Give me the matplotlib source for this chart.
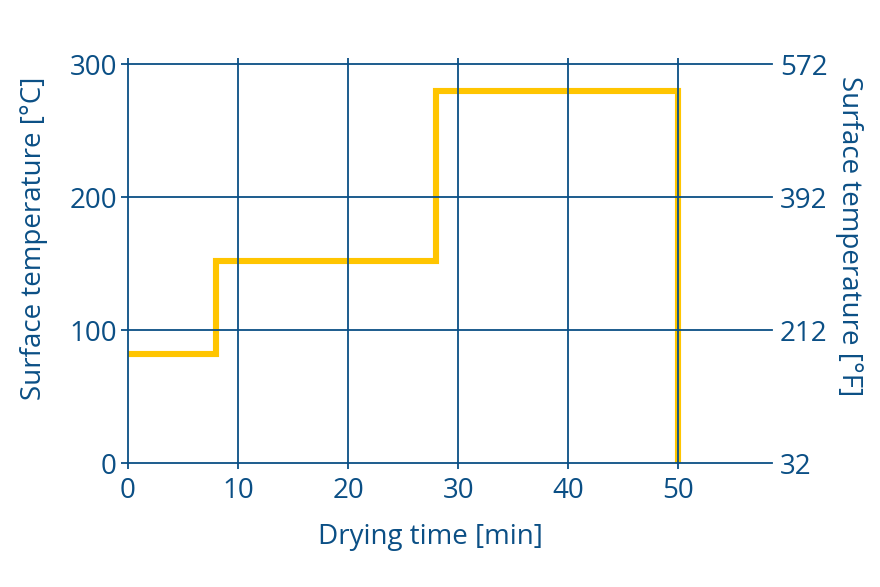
import matplotlib.pyplot as plt
import numpy as np

# drying profile (time in min, surface temperature in °C)
time_min = [0, 8, 28, 50, 50]
temp_c = [82, 152, 280, 280, 0]

x_ticks = [0, 10, 20, 30, 40, 50]
y_ticks = [0, 100, 200, 300]
f_labels = ['32', '212', '392', '572']

blue = '#0b4f85'
yellow = '#ffc500'

plt.rcParams['font.family'] = ['Open Sans', 'DejaVu Sans']
plt.rcParams['font.size'] = 20

fig = plt.figure(figsize=(8.8, 5.87), dpi=100)
ax = fig.add_axes([0.1455, 0.2107, 0.7315, 0.6798])

ax.plot(time_min, temp_c, drawstyle='steps-post', color=yellow, lw=4.4,
        solid_joinstyle='miter', zorder=2)

ax.set_xlim(0, 58.5)
ax.set_ylim(0, 300)
ax.set_xticks(x_ticks)
ax.set_yticks(y_ticks)

for s in ax.spines.values():
    s.set_visible(False)

# grid lines drawn as plain lines in axes blue
for yv in y_ticks:
    ax.axhline(yv, color=blue, lw=1.3, zorder=3, clip_on=False)
for xv in x_ticks:
    ax.axvline(xv, color=blue, lw=1.3, zorder=3, clip_on=False)

ax.tick_params(axis='x', colors=blue, length=4, width=1.3, direction='out',
               top=True, pad=6)
ax.tick_params(axis='y', colors=blue, length=5, width=1.3, direction='out', pad=3)
for lab in ax.get_xticklabels() + ax.get_yticklabels():
    lab.set_color(blue)

ax.set_xlabel('Drying time [min]', color=blue)
ax.xaxis.set_label_coords(0.47, -0.15)
ax.set_ylabel('Surface temperature [°C]', color=blue)
ax.yaxis.set_label_coords(-0.125, 0.565)

ax2 = ax.twinx()
ax2.set_ylim(0, 300)
ax2.set_yticks(y_ticks)
ax2.set_yticklabels(f_labels)
for s in ax2.spines.values():
    s.set_visible(False)
ax2.tick_params(axis='y', colors=blue, length=0, pad=6)
for lab in ax2.get_yticklabels():
    lab.set_color(blue)
ax2.set_ylabel('Surface temperature [°F]', color=blue, rotation=-90)
ax2.yaxis.set_label_coords(1.142, 0.57)

fig.savefig('out.png', dpi=100)
